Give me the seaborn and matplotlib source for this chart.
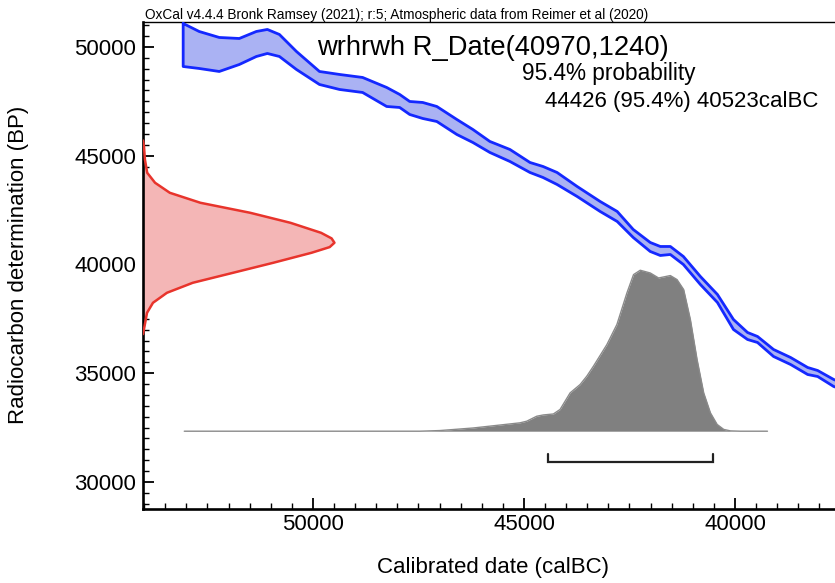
import numpy as np
import pandas as pd
import matplotlib
matplotlib.use("Agg")
import matplotlib.pyplot as plt
import seaborn as sns
from matplotlib.ticker import MultipleLocator

# ---- data ----
# Calibration curve: calendar date (calBC), mean radiocarbon age (BP), 1-sigma (BP)
cal_bc = [53076, 52696, 52221, 51746, 51342, 51081, 50796, 50392, 49846, 49371,
          48824, 48254, 47945, 47708, 47399, 47066, 46591, 46211, 45808, 45333,
          44858, 44549, 44216, 43741, 43195, 42791, 42411, 42008, 41770, 41532,
          41223, 40820, 40416, 40036, 39703, 39466, 39086, 38682, 38278, 38041,
          37661, 37375]
cal_mean = [50092, 49862, 49656, 49793, 50138, 50254, 50070, 49380, 48575, 48392,
            48254, 47702, 47518, 47196, 47081, 46920, 46322, 45908, 45403, 45012,
            44460, 44253, 43954, 43357, 42667, 42207, 41425, 40805, 40621, 40644,
            40184, 39264, 38437, 37241, 36713, 36552, 35931, 35563, 35103, 34988,
            34552, 34350]
cal_sigma = [989, 850, 782, 598, 575, 552, 506, 414, 299, 345,
             345, 437, 299, 299, 368, 345, 345, 299, 253, 276,
             230, 253, 276, 230, 230, 230, 184, 207, 207, 184,
             184, 184, 184, 230, 161, 138, 161, 161, 161, 138,
             161, 150]

# Radiocarbon measurement likelihood (relative)
r_bp = [45700, 45440, 44828, 44216, 43757, 43297, 42837, 42377, 41917, 41457,
        41200, 41000, 40800, 40538, 40078, 39618, 39159, 38699, 38239, 37779,
        37163, 36800]
r_prob = [0.0, 0.005, 0.01, 0.022, 0.063, 0.14, 0.30, 0.56, 0.77, 0.93,
          0.985, 1.0, 0.975, 0.88, 0.68, 0.47, 0.26, 0.125, 0.052, 0.021,
          0.008, 0.0]

# Calibrated date probability (relative)
g_cal = [53050, 47470, 46995, 46204, 45095, 44936, 44698, 44542, 44304, 44145,
         43907, 43670, 43511, 43354, 43036, 42798, 42561, 42404, 42245, 42007,
         41810, 41532, 41373, 41216, 41057, 40898, 40741, 40582, 40423, 40266,
         40107, 39870, 39230]
g_prob = [0.0, 0.0, 0.004, 0.020, 0.052, 0.062, 0.093, 0.101, 0.107, 0.135,
          0.238, 0.290, 0.342, 0.404, 0.538, 0.663, 0.859, 0.973, 1.0, 0.983,
          0.952, 0.967, 0.942, 0.880, 0.694, 0.445, 0.238, 0.114, 0.042, 0.011,
          0.002, 0.0, 0.0]

range_954 = [44426, 40523]
title_txt = "wrhrwh R_Date(40970,1240)"
prob_txt = "95.4% probability"
range_txt = "44426 (95.4%) 40523calBC"
header_txt = "OxCal v4.4.4 Bronk Ramsey (2021); r:5; Atmospheric data from Reimer et al (2020)"

# ---- styling / layout ----
sns.set_theme(style="white")
plt.rcParams['font.family'] = ['Liberation Sans', 'DejaVu Sans']
plt.rcParams['text.color'] = 'black'
plt.rcParams['axes.labelcolor'] = 'black'
plt.rcParams['xtick.color'] = 'black'
plt.rcParams['ytick.color'] = 'black'

W, H = 835, 583
fig = plt.figure(figsize=(W / 100, H / 100), dpi=100)
ax = fig.add_axes([143 / W, 1 - 508.7 / H, 1 - 143 / W, (508.7 - 22) / H])

XL, XR = 54028, 37630
YB, YT = 28772, 51149
ax.set_xlim(XL, XR)
ax.set_ylim(YB, YT)

# calibration curve band
cm = np.array(cal_mean, float)
cs = np.array(cal_sigma, float)
hi = cm + cs
lo = cm - cs
ax.fill_between(cal_bc, lo, hi, color='#aab2f3', lw=0, zorder=2)
outline = pd.DataFrame({
    'x': list(cal_bc) + list(cal_bc[::-1]) + [cal_bc[0]],
    'y': list(hi) + list(lo[::-1]) + [hi[0]],
})
sns.lineplot(data=outline, x='x', y='y', sort=False, estimator=None,
             color='#1428ff', lw=2.0, ax=ax, zorder=3,
             solid_joinstyle='round')

# radiocarbon date (red) along the y axis
RW = 4537.0
rx = XL - np.array(r_prob) * RW
ax.fill_betweenx(r_bp, XL, rx, color='#f4b6b6', lw=0, zorder=2)
rdf = pd.DataFrame({'x': rx, 'y': r_bp})
sns.lineplot(data=rdf, x='x', y='y', sort=False, estimator=None,
             color='#e8342c', lw=1.8, ax=ax, zorder=3, solid_joinstyle='round')

# calibrated distribution (grey)
GB = 32335.0
GH = 7400.0
gy = GB + np.array(g_prob) * GH
ax.fill_between(g_cal, GB, gy, color='#808080', lw=0, zorder=2)
gdf = pd.DataFrame({'x': g_cal, 'y': gy})
sns.lineplot(data=gdf, x='x', y='y', sort=False, estimator=None,
             color='#8a8a8a', lw=1.0, ax=ax, zorder=3)

# 95.4% range bracket
by = 30942.0
bt = 31264.0
ax.plot([range_954[0], range_954[0], range_954[1], range_954[1]],
        [bt, by, by, bt], color='#222222', lw=1.6, zorder=3,
        solid_joinstyle='miter')

# axes cosmetics
ax.set_xlabel('')
ax.set_ylabel('')
ax.xaxis.set_major_locator(MultipleLocator(5000))
ax.xaxis.set_minor_locator(MultipleLocator(500))
ax.yaxis.set_major_locator(MultipleLocator(5000))
ax.yaxis.set_minor_locator(MultipleLocator(500))
ax.tick_params(which='both', direction='in', bottom=True, left=True,
               top=False, right=False, colors='black', labelcolor='black')
ax.tick_params(which='major', length=8, width=1.3, labelsize=16)
ax.tick_params(which='minor', length=4, width=1.0)
ax.tick_params(axis='x', which='major', pad=3.5)
ax.tick_params(axis='y', which='major', pad=5)
ax.spines['right'].set_visible(False)
ax.spines['left'].set_linewidth(1.9)
ax.spines['bottom'].set_linewidth(1.9)
ax.spines['top'].set_linewidth(1.0)
for s in ['left', 'bottom', 'top']:
    ax.spines[s].set_color('black')
ax.grid(False)

def px(x, y):
    return x / W, 1 - y / H

fig.text(*px(145, 18.5), header_txt, fontsize=9.8, ha='left', va='baseline',
         color='black')
fig.text(*px(317, 55), title_txt, fontsize=19.7, ha='left', va='baseline',
         color='black')
fig.text(*px(522, 80), prob_txt, fontsize=16.3, ha='left', va='baseline',
         color='black')
fig.text(*px(545, 106.5), range_txt, fontsize=16, ha='left', va='baseline',
         color='black')
fig.text(*px(18.5, 265), 'Radiocarbon determination (BP)', fontsize=16,
         rotation=90, ha='center', va='center', color='black')
fig.text(*px(493, 568), 'Calibrated date (calBC)', fontsize=16,
         ha='center', va='center', color='black')

fig.savefig('out.png', dpi=100)
